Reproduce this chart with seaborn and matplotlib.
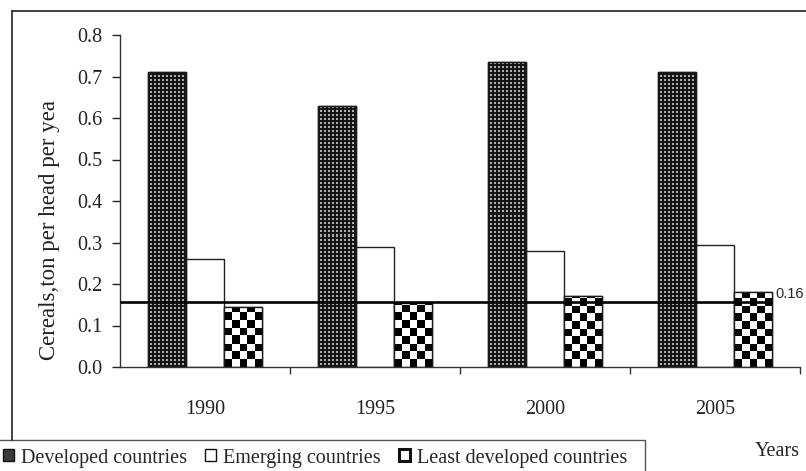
import numpy as np
import pandas as pd
import matplotlib
matplotlib.use("Agg")
import matplotlib.pyplot as plt
import seaborn as sns
from matplotlib.patches import Rectangle, Patch
from matplotlib.lines import Line2D

# ---- data -----------------------------------------------------------------
years = ["1990", "1995", "2000", "2005"]
groups = ["Developed countries", "Emerging countries", "Least developed countries"]
developed = [0.71, 0.63, 0.735, 0.71]
emerging = [0.26, 0.29, 0.28, 0.295]
least_developed = [0.145, 0.155, 0.17, 0.18]
reference_level = 0.157
y_ticks = [0.0, 0.1, 0.2, 0.3, 0.4, 0.5, 0.6, 0.7, 0.8]

df = pd.DataFrame({
    "year": years * 3,
    "group": [g for g in groups for _ in years],
    "value": developed + emerging + least_developed,
})

# ---- style ----------------------------------------------------------------
sns.set_theme(style="white")
plt.rcParams["font.family"] = ["Liberation Serif", "DejaVu Serif"]
FS = 14.5

W, H = 806, 471
fig = plt.figure(figsize=(W / 100, H / 100), dpi=100)
ax = fig.add_axes([120 / W, 1 - 367 / H, 680 / W, 332 / H])

sns.barplot(data=df, x="year", y="value", hue="group", order=years,
            hue_order=groups, palette=["#2a2a2a", "white", "white"],
            width=0.67, gap=0, saturation=1, edgecolor="#222222",
            linewidth=1.0, legend=False, ax=ax)

ax.set_xlim(-0.5, 3.5)
ax.set_ylim(0, 0.8)


def fill_pattern(patch, kind):
    """Paint a bitmap texture clipped to a bar, one texel per screen pixel."""
    bb = patch.get_extents()
    wpx = max(int(round(bb.width)), 1)
    hpx = max(int(round(bb.height)), 1)
    yy, xx = np.mgrid[0:hpx, 0:wpx]
    if kind == "dots":
        light = ((xx % 4) >= 2) & ((yy % 4) >= 2)
        arr = np.where(light, 0.68, 0.08)
    else:
        cell = wpx / 5.0
        arr = (((xx // cell).astype(int) + (yy // cell).astype(int)) % 2).astype(float)
    x0 = patch.get_x()
    x1 = x0 + patch.get_width()
    y0 = patch.get_y()
    y1 = y0 + patch.get_height()
    im = ax.imshow(arr, extent=(x0, x1, y0, y1), origin="lower", cmap="gray",
                   vmin=0, vmax=1, interpolation="nearest", aspect="auto",
                   zorder=patch.get_zorder() + 0.1)
    im.set_clip_path(patch)
    ax.add_patch(Rectangle((x0, y0), x1 - x0, y1 - y0, fill=False,
                           edgecolor="#1a1a1a", linewidth=1.0,
                           zorder=patch.get_zorder() + 0.2))


for p in ax.containers[0]:
    fill_pattern(p, "dots")
for p in ax.containers[2]:
    fill_pattern(p, "checks")

ax.set_xlim(-0.5, 3.5)
ax.set_ylim(0, 0.8)

# reference line with its value label
last_bar = ax.containers[2][-1]
line_end = last_bar.get_x() + last_bar.get_width()
ax.hlines(reference_level, -0.5, line_end, color="black", linewidth=1.9,
          zorder=10)
ax.annotate(f"{reference_level:.2f}", xy=(line_end, reference_level),
            xytext=(3, 8), textcoords="offset pixels", ha="left", va="center",
            fontsize=10.5, family=["Liberation Sans", "DejaVu Sans"],
            annotation_clip=False)

# axes styling
for side in ("top", "right"):
    ax.spines[side].set_visible(False)
for side in ("left", "bottom"):
    ax.spines[side].set_color("#333333")
    ax.spines[side].set_linewidth(1.0)

ax.set_yticks(y_ticks)
ax.set_yticklabels([f"{t:.1f}" for t in y_ticks])
ax.tick_params(axis="y", direction="out", length=5.8, width=1, pad=7,
               colors="#222222", labelsize=FS, left=True)
ax.set_xticks(range(len(years)))
ax.set_xticklabels(years)
ax.set_xticks([i + 0.5 for i in range(len(years))], minor=True)
ax.tick_params(axis="x", which="major", length=0, pad=24, labelsize=FS,
               colors="#222222")
ax.tick_params(axis="x", which="minor", direction="out", length=5,
               width=1, color="#333333", bottom=True)
ax.set_xlabel("")
ax.set_ylabel("Cereals,ton per head per yea", fontsize=16.5, color="#222222")
ax.yaxis.set_label_coords(-0.088, 0.414)

# caption on the right of the legend
fig.text(755 / W, 1 - 452 / H, "Years", ha="left", va="center", fontsize=FS,
         color="#222222")

# legend
handles = [
    Patch(facecolor="#3a3a3a", edgecolor="#111111", linewidth=1),
    Patch(facecolor="white", edgecolor="#111111", linewidth=1),
    Patch(facecolor="white", edgecolor="#111111", linewidth=2.2),
]
fig.legend(handles, groups, loc="center left",
           bbox_to_anchor=(3 / W, 1 - 458 / H), ncol=3, frameon=False,
           fontsize=14.5, handlelength=0.55, handleheight=0.55,
           handletextpad=0.35, columnspacing=0.9, borderaxespad=0,
           borderpad=0)
fig.add_artist(Rectangle((-2 / W, -0.05), 647 / W, (H - 440) / H + 0.05,
                         transform=fig.transFigure, fill=False,
                         edgecolor="#555555", linewidth=1.0))

# chart frame
fig.add_artist(Line2D([12 / W, 1.0], [1 - 11 / H, 1 - 11 / H],
                      transform=fig.transFigure, color="#222222", linewidth=1.2))
fig.add_artist(Line2D([12 / W, 12 / W], [1 - 11 / H, 1 - 440 / H],
                      transform=fig.transFigure, color="#222222", linewidth=1.2))

fig.savefig("out.png", dpi=100, facecolor="white")
